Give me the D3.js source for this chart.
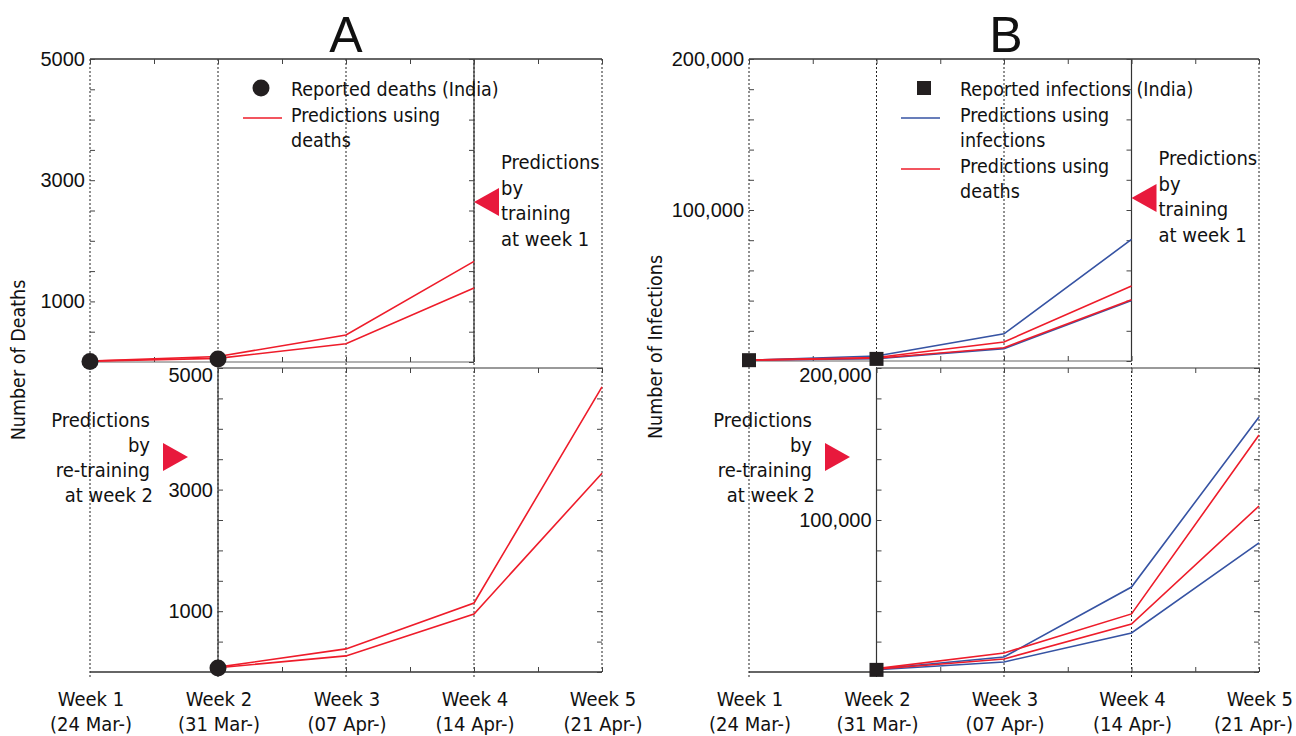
<!DOCTYPE html>
<html>
<head>
<meta charset="utf-8">
<script src="https://cdn.jsdelivr.net/npm/d3@7/dist/d3.min.js"></script>
<style>
  html, body { margin: 0; padding: 0; background: #fff; }
  svg { display: block; }
  .num { font-family: "Liberation Sans", Arial, sans-serif; font-size: 20px; fill: #111; }
  .lbl { font-family: "DejaVu Sans Condensed", "Open Sans", sans-serif; font-size: 20px; fill: #111; }
  .leg { font-family: "DejaVu Sans Condensed", "Open Sans", sans-serif; font-size: 19.5px; fill: #111; }
</style>
</head>
<body>
<svg id="chart" width="1296" height="736"></svg>
<script>
// ---------------- DATA ----------------
const weeks = ["Week 1", "Week 2", "Week 3", "Week 4", "Week 5"];
const weekDates = ["(24 Mar-)", "(31 Mar-)", "(07 Apr-)", "(14 Apr-)", "(21 Apr-)"];

// Panel A (deaths)
const reportedDeathsTop = [10, 50];            // weeks 1-2
const deathsPredTopUpper = [15, 90, 445, 1660]; // trained at week 1, weeks 1-4
const deathsPredTopLower = [15, 60, 300, 1220];
const reportedDeathsBottom = [65];             // week 2
const deathsPredBotUpper = [80, 380, 1135, 4690]; // re-trained at week 2, weeks 2-5
const deathsPredBotLower = [70, 265, 955, 3270];
const deathsTicks = [0, 500, 1000, 1500, 2000, 2500, 3000, 3500, 4000, 4500, 5000];
const deathsTickLabels = [1000, 3000, 5000];

// Panel B (infections)
const reportedInfTop = [540, 1400];
const infByInfTopUpper = [600, 3300, 18000, 80500];
const infByInfTopLower = [600, 1600, 8200, 40000];
const infByDeathTopUpper = [600, 2300, 12600, 49700];
const infByDeathTopLower = [600, 1800, 8800, 40500];
const reportedInfBottom = [1400];
const infByInfBotUpper = [2000, 9900, 55900, 167800];
const infByInfBotLower = [1500, 6600, 25700, 84900];
const infByDeathBotUpper = [2200, 12500, 38200, 155900];
const infByDeathBotLower = [1800, 8600, 31600, 109200];
const infTicks = [0, 20000, 40000, 60000, 80000, 100000, 120000, 140000, 160000, 180000, 200000];
const infTickLabels = [100000, 200000];

// ---------------- DRAW ----------------
const RED = "#ee1c2a", BLUE = "#3653a3", TRI = "#e8193c", DARK = "#231f20";
const svg = d3.select("#chart");
const W = 1296;

function panel(cfg) {
  const g = svg.append("g");
  const x = d3.scaleLinear().domain([0, 4]).range([cfg.x0, cfg.x4]);
  const yT = d3.scaleLinear().domain([0, cfg.max]).range([cfg.topBot, cfg.topTop]);
  const yB = d3.scaleLinear().domain([0, cfg.max]).range([cfg.botBot, cfg.botTop]);

  // dotted vertical week lines
  weeks.forEach((w, i) => {
    g.append("line").attr("x1", x(i)).attr("x2", x(i))
      .attr("y1", cfg.topTop).attr("y2", i === 4 ? cfg.botBot : cfg.botBot + 6)
      .attr("stroke", "#222").attr("stroke-width", 1).attr("stroke-dasharray", "2,2");
  });

  const halfTicks = d3.range(0, 4.01, 0.5);
  // ---- top panel frame (weeks 1-4)
  g.append("line").attr("x1", x(0)).attr("x2", x(4)).attr("y1", cfg.topTop).attr("y2", cfg.topTop)
    .attr("stroke", "#333").attr("stroke-width", 1.5);
  g.append("line").attr("x1", x(0)).attr("x2", x(3)).attr("y1", cfg.topBot).attr("y2", cfg.topBot)
    .attr("stroke", "#666").attr("stroke-width", 1.2);
  g.append("line").attr("x1", x(3)).attr("x2", x(3)).attr("y1", cfg.topTop).attr("y2", cfg.topBot)
    .attr("stroke", "#333").attr("stroke-width", 1.2);
  // ticks of top panel
  g.append("g").attr("transform", `translate(${x(0)},0)`).call(d3.axisLeft(yT).tickValues(cfg.ticks).tickSize(-5).tickFormat(""))
    .call(s => s.select(".domain").remove()).selectAll("line").attr("stroke", "#444");
  g.append("g").attr("transform", `translate(${x(3)},0)`).call(d3.axisRight(yT).tickValues(cfg.ticks).tickSize(-5).tickFormat(""))
    .call(s => s.select(".domain").remove()).selectAll("line").attr("stroke", "#444");
  g.append("g").attr("transform", `translate(0,${cfg.topTop})`).call(d3.axisTop(x).tickValues(halfTicks).tickSize(-5).tickFormat(""))
    .call(s => s.select(".domain").remove()).selectAll("line").attr("stroke", "#444");
  g.append("g").attr("transform", `translate(0,${cfg.topBot})`).call(d3.axisBottom(x).tickValues(halfTicks.filter(v => v <= 3)).tickSize(-5).tickFormat(""))
    .call(s => s.select(".domain").remove()).selectAll("line").attr("stroke", "#444");
  cfg.tickLabels.forEach(v => {
    g.append("text").attr("class", "num").attr("x", x(0) - 5).attr("y", yT(v) + 7)
      .attr("text-anchor", "end").text(cfg.fmt(v));
  });

  // ---- bottom panel frame (weeks 2-5)
  g.append("line").attr("x1", x(1)).attr("x2", x(4)).attr("y1", cfg.botTop).attr("y2", cfg.botTop)
    .attr("stroke", "#777").attr("stroke-width", 1.5);
  g.append("line").attr("x1", x(0)).attr("x2", x(4)).attr("y1", cfg.botBot).attr("y2", cfg.botBot)
    .attr("stroke", "#333").attr("stroke-width", 1.5);
  g.append("line").attr("x1", x(1)).attr("x2", x(1)).attr("y1", cfg.botTop).attr("y2", cfg.botBot)
    .attr("stroke", "#333").attr("stroke-width", 1.2);
  g.append("g").attr("transform", `translate(${x(1)},0)`).call(d3.axisLeft(yB).tickValues(cfg.ticks).tickSize(-5).tickFormat(""))
    .call(s => s.select(".domain").remove()).selectAll("line").attr("stroke", "#444");
  g.append("g").attr("transform", `translate(${x(4)},0)`).call(d3.axisRight(yB).tickValues(cfg.ticks).tickSize(-5).tickFormat(""))
    .call(s => s.select(".domain").remove()).selectAll("line").attr("stroke", "#444");
  g.append("g").attr("transform", `translate(0,${cfg.botTop})`).call(d3.axisTop(x).tickValues(halfTicks.filter(v => v >= 1)).tickSize(-5).tickFormat(""))
    .call(s => s.select(".domain").remove()).selectAll("line").attr("stroke", "#444");
  g.append("g").attr("transform", `translate(0,${cfg.botBot})`).call(d3.axisBottom(x).tickValues(halfTicks.filter(v => v >= 1)).tickSize(-5).tickFormat(""))
    .call(s => s.select(".domain").remove()).selectAll("line").attr("stroke", "#444");
  cfg.tickLabels.forEach(v => {
    g.append("text").attr("class", "num").attr("x", x(1) - 5)
      .attr("y", yB(v) + (v === cfg.max ? 14 : 7))
      .attr("text-anchor", "end").text(cfg.fmt(v));
  });

  // ---- lines
  const lineT = d3.line().x((d, i) => x(i)).y(d => yT(d));
  const lineB = d3.line().x((d, i) => x(i + 1)).y(d => yB(d));
  cfg.topSeries.forEach(s => g.append("path").datum(s.data).attr("d", lineT)
    .attr("fill", "none").attr("stroke", s.color).attr("stroke-width", 1.6));
  cfg.botSeries.forEach(s => g.append("path").datum(s.data).attr("d", lineB)
    .attr("fill", "none").attr("stroke", s.color).attr("stroke-width", 1.6));

  // ---- reported markers
  const marker = (cx, cy) => {
    if (cfg.marker === "circle") g.append("circle").attr("cx", cx).attr("cy", cy).attr("r", 8.5).attr("fill", DARK);
    else g.append("rect").attr("x", cx - 7).attr("y", cy - 7).attr("width", 14).attr("height", 14).attr("fill", DARK);
  };
  cfg.reportedTop.forEach((v, i) => marker(x(i), yT(v)));
  cfg.reportedBot.forEach((v, i) => marker(x(i + 1), yB(v)));

  // ---- week labels (kept inside the page)
  weeks.forEach((w, i) => {
    const t1 = g.append("text").attr("class", "lbl").attr("x", x(i) + 1).attr("y", 706).attr("text-anchor", "middle").text(w);
    const t2 = g.append("text").attr("class", "lbl").attr("x", x(i) + 1).attr("y", 731).attr("text-anchor", "middle").text(weekDates[i]);
    [t1, t2].forEach(t => {
      const bb = t.node().getBBox();
      if (bb.x + bb.width > W - 3) t.attr("x", W - 3).attr("text-anchor", "end");
    });
  });

  // ---- title
  g.append("text").attr("x", cfg.titleX).attr("y", 52).attr("text-anchor", "middle")
    .style("font-family", "Liberation Sans, Arial, sans-serif").style("font-size", "50px").attr("fill", "#111").text(cfg.title);

  // ---- y label
  g.append("text").attr("class", "lbl").style("font-size", "19.5px")
    .attr("transform", `translate(${cfg.yLabelX},${cfg.yLabelY}) rotate(-90)`)
    .attr("text-anchor", "middle").text(cfg.yLabel);

  // ---- annotations: training at week 1
  const a1x = x(3) + 27;
  ["Predictions", "by", "training", "at week 1"].forEach((t, i) => {
    g.append("text").attr("class", "lbl").attr("x", a1x).attr("y", cfg.ann1Y + i * 25.5).text(t);
  });
  const tcy = cfg.ann1Y + 33;
  g.append("path").attr("d", `M${x(3)},${tcy} L${x(3) + 25},${tcy - 14} L${x(3) + 25},${tcy + 14} Z`).attr("fill", TRI);

  // ---- annotations: re-training at week 2
  const a2x = cfg.ann2X;
  ["Predictions", "by", "re-training", "at week 2"].forEach((t, i) => {
    g.append("text").attr("class", "lbl").attr("x", a2x + (i === 3 ? 3 : 0)).attr("y", 427 + i * 25)
      .attr("text-anchor", "end").text(t);
  });
  const tcx = a2x + 13;
  g.append("path").attr("d", `M${tcx},443 L${tcx + 25},457 L${tcx},471 Z`).attr("fill", TRI);

  // ---- legend
  const lx = cfg.legX;
  cfg.legend.forEach(item => {
    if (item.type === "circle") g.append("circle").attr("cx", lx + 18).attr("cy", item.y).attr("r", 8.5).attr("fill", DARK);
    else if (item.type === "square") g.append("rect").attr("x", lx + 16).attr("y", item.y - 7).attr("width", 14).attr("height", 14).attr("fill", DARK);
    else g.append("line").attr("x1", lx).attr("x2", lx + 39).attr("y1", item.y).attr("y2", item.y)
      .attr("stroke", item.color).attr("stroke-width", 1.6);
    item.text.forEach((t, i) => {
      g.append("text").attr("class", "leg").attr("x", cfg.legTextX).attr("y", item.textY + i * 25).text(t);
    });
  });
}

panel({
  title: "A", titleX: 346, yLabel: "Number of Deaths", yLabelX: 25, yLabelY: 360,
  x0: 90, x4: 602, max: 5000,
  topTop: 59, topBot: 362, botTop: 368, botBot: 672,
  ticks: deathsTicks, tickLabels: deathsTickLabels, fmt: d3.format("d"),
  marker: "circle",
  reportedTop: reportedDeathsTop, reportedBot: reportedDeathsBottom,
  topSeries: [{ data: deathsPredTopUpper, color: RED }, { data: deathsPredTopLower, color: RED }],
  botSeries: [{ data: deathsPredBotUpper, color: RED }, { data: deathsPredBotLower, color: RED }],
  ann1Y: 169, ann2X: 150,
  legX: 243, legTextX: 291,
  legend: [
    { type: "circle", y: 88, textY: 96, text: ["Reported deaths (India)"] },
    { type: "line", color: RED, y: 118, textY: 122, text: ["Predictions using", "deaths"] }
  ]
});

panel({
  title: "B", titleX: 1006, yLabel: "Number of Infections", yLabelX: 662, yLabelY: 347,
  x0: 749, x4: 1259, max: 200000,
  topTop: 59, topBot: 361, botTop: 368, botBot: 672,
  ticks: infTicks, tickLabels: infTickLabels, fmt: d3.format(","),
  marker: "square",
  reportedTop: reportedInfTop, reportedBot: reportedInfBottom,
  topSeries: [
    { data: infByInfTopUpper, color: BLUE }, { data: infByInfTopLower, color: BLUE },
    { data: infByDeathTopUpper, color: RED }, { data: infByDeathTopLower, color: RED }
  ],
  botSeries: [
    { data: infByInfBotUpper, color: BLUE }, { data: infByInfBotLower, color: BLUE },
    { data: infByDeathBotUpper, color: RED }, { data: infByDeathBotLower, color: RED }
  ],
  ann1Y: 165, ann2X: 812,
  legX: 901, legTextX: 960,
  legend: [
    { type: "square", y: 88, textY: 96, text: ["Reported infections (India)"] },
    { type: "line", color: BLUE, y: 118, textY: 122, text: ["Predictions using", "infections"] },
    { type: "line", color: RED, y: 169, textY: 173, text: ["Predictions using", "deaths"] }
  ]
});
</script>
</body>
</html>
